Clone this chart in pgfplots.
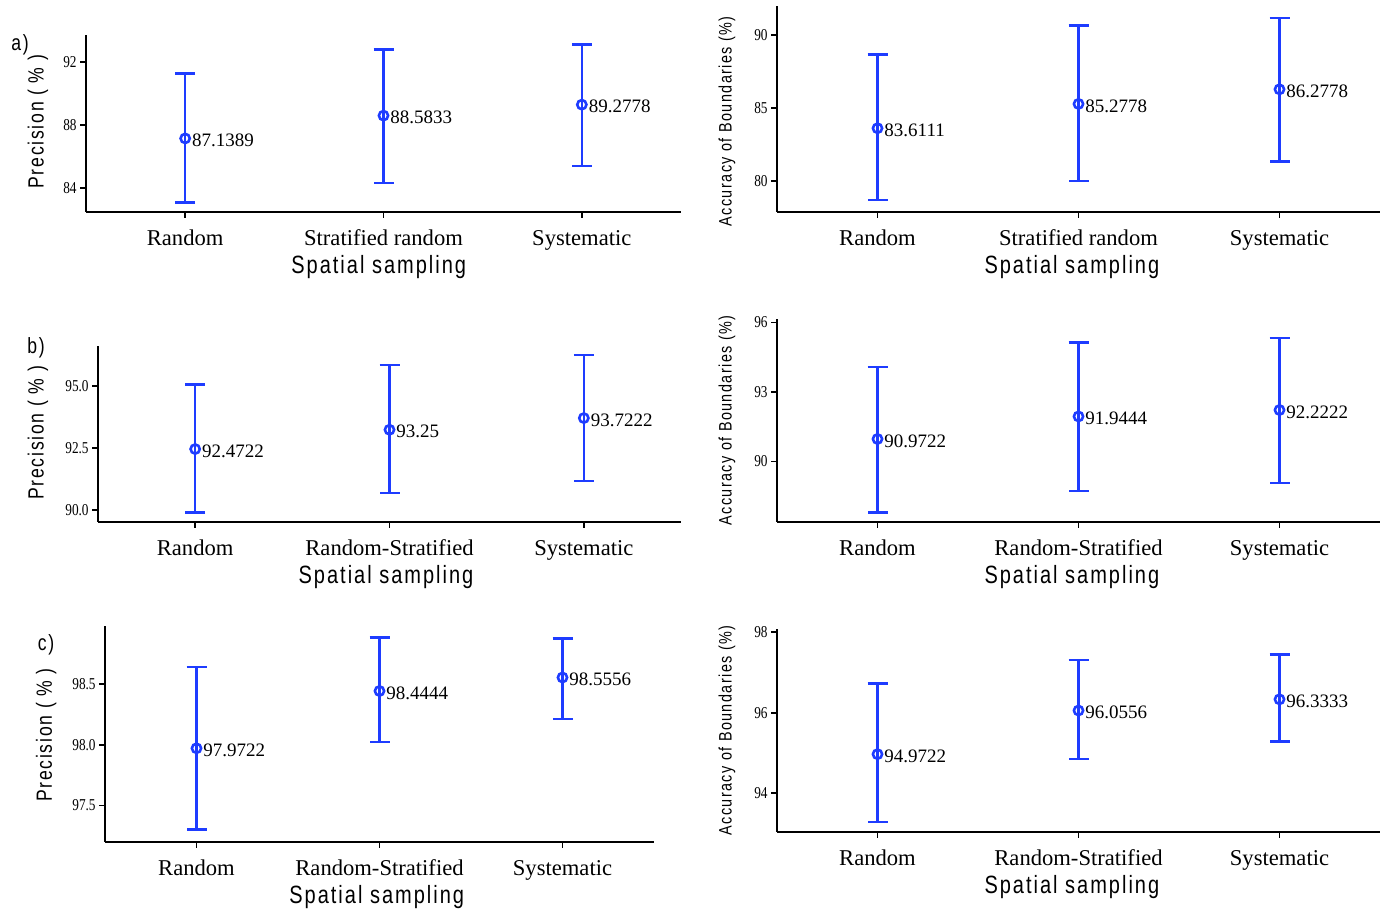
\documentclass[border=0pt]{standalone}
\usepackage{fontspec}
\setmainfont{Liberation Serif}
\newfontfamily\labfont[FakeStretch=0.8,LetterSpace=8]{Liberation Sans}
\newfontfamily\tickfont[FakeStretch=0.8]{Liberation Serif}
\usepackage{pgfplots}
\pgfplotsset{compat=1.18}
\usepackage{pgfplotstable}
\definecolor{ebblue}{RGB}{30,60,255}

\pgfplotsset{
 panel/.style={
  scale only axis, anchor=south west, clip=false,
  xmin=-0.5, xmax=2.5, xtick={0,1,2},
  axis x line*=bottom, axis y line*=left,
  axis line style={line width=1pt, black},
  tick style={line width=0.9pt, black},
  tick align=outside, major tick length=3pt,
  /pgf/number format/assume math mode=true,
  yticklabel style={font=\tickfont\fontsize{8.3}{9}\selectfont, inner sep=1.5pt},
  xticklabel style={font=\fontsize{11.3}{12}\selectfont, yshift=-2.5pt},
  xlabel={Spatial sampling},
  xlabel style={font=\labfont\fontsize{12.5}{14}\selectfont},
 },
 prec/.style={ylabel={Precision ( \% )}, ylabel style={font=\labfont\fontsize{11}{12}\selectfont}},
 accu/.style={ylabel={Accuracy of Boundaries (\%)}, ylabel style={font=\labfont\fontsize{9}{10}\selectfont}},
 ebplot/.style={ebblue, line width=1.2pt, mark=o, mark size=2.3pt, only marks,
   mark options={line width=1.3pt, ebblue},
   nodes near coords, point meta=explicit symbolic,
   every node near coord/.append style={anchor=west, text=black, font=\fontsize{9.5}{10}\selectfont, xshift=-0.5pt, yshift=-1pt},
   error bars/.cd, y dir=both, y explicit,
   error bar style={line width=1.2pt, ebblue},
   error mark options={ebblue, line width=1.2pt, mark size=5pt, rotate=90}},
}

\pgfplotstableread{
x y ep em lab
0 87.1389 4.10 4.07 87.1389
1 88.5833 4.18 4.26 88.5833
2 89.2778 3.82 3.88 89.2778
}\dataA
\pgfplotstableread{
x y ep em lab
0 83.6111 5.06 4.94 83.6111
1 85.2778 5.38 5.28 85.2778
2 86.2778 4.87 4.95 86.2778
}\dataB
\pgfplotstableread{
x y ep em lab
0 92.4722 2.60 2.56 92.4722
1 93.25 2.62 2.55 93.25
2 93.7222 2.54 2.55 93.7222
}\dataC
\pgfplotstableread{
x y ep em lab
0 90.9722 3.11 3.18 90.9722
1 91.9444 3.19 3.21 91.9444
2 92.2222 3.12 3.16 92.2222
}\dataD
\pgfplotstableread{
x y ep em lab
0 97.9722 0.67 0.67 97.9722
1 98.4444 0.44 0.42 98.4444
2 98.5556 0.32 0.34 98.5556
}\dataE
\pgfplotstableread{
x y ep em lab
0 94.9722 1.75 1.69 94.9722
1 96.0556 1.25 1.21 96.0556
2 96.3333 1.11 1.05 96.3333
}\dataF

\begin{document}
\begin{tikzpicture}
\useasboundingbox (0,0) rectangle (693pt,456.5pt);

% a) left
\begin{axis}[panel, prec, at={(43pt,350.5pt)}, width=297.5pt, height=88.5pt,
  ymin=82.48, ymax=93.69, ytick={84,88,92},
  xticklabels={Random,Stratified random,Systematic},
  ylabel style={at={(axis description cs:-0.081,0.51)}, anchor=center},
  xlabel style={at={(axis description cs:0.492,-0.31)}, anchor=center}]
\addplot[ebplot] table[x=x,y=y,y error plus=ep,y error minus=em,meta=lab]{\dataA};
\end{axis}

% a) right
\begin{axis}[panel, accu, at={(388.5pt,350.5pt)}, width=301.5pt, height=103pt,
  ymin=77.87, ymax=91.99, ytick={80,85,90},
  xticklabels={Random,Stratified random,Systematic},
  ylabel style={at={(axis description cs:-0.083,0.44)}, anchor=center},
  xlabel style={at={(axis description cs:0.489,-0.267)}, anchor=center}]
\addplot[ebplot] table[x=x,y=y,y error plus=ep,y error minus=em,meta=lab]{\dataB};
\end{axis}

% b) left
\begin{axis}[panel, prec, at={(49pt,195.5pt)}, width=291.5pt, height=88pt,
  ymin=89.53, ymax=96.63, ytick={90,92.5,95}, yticklabels={90.0,92.5,95.0},
  xticklabels={Random,Random-Stratified,Systematic},
  ylabel style={at={(axis description cs:-0.103,0.506)}, anchor=center},
  xlabel style={at={(axis description cs:0.494,-0.312)}, anchor=center}]
\addplot[ebplot] table[x=x,y=y,y error plus=ep,y error minus=em,meta=lab]{\dataC};
\end{axis}

% b) right
\begin{axis}[panel, accu, at={(388.5pt,195.5pt)}, width=301.5pt, height=101.5pt,
  ymin=87.39, ymax=96.15, ytick={90,93,96},
  xticklabels={Random,Random-Stratified,Systematic},
  ylabel style={at={(axis description cs:-0.083,0.50)}, anchor=center},
  xlabel style={at={(axis description cs:0.489,-0.271)}, anchor=center}]
\addplot[ebplot] table[x=x,y=y,y error plus=ep,y error minus=em,meta=lab]{\dataD};
\end{axis}

% c) left
\begin{axis}[panel, prec, at={(52.5pt,35.5pt)}, width=274.5pt, height=108pt,
  ymin=97.2, ymax=98.98, ytick={97.5,98,98.5}, yticklabels={97.5,98.0,98.5},
  xticklabels={Random,Random-Stratified,Systematic},
  ylabel style={at={(axis description cs:-0.107,0.495)}, anchor=center},
  xlabel style={at={(axis description cs:0.495,-0.255)}, anchor=center}]
\addplot[ebplot] table[x=x,y=y,y error plus=ep,y error minus=em,meta=lab]{\dataE};
\end{axis}

% c) right
\begin{axis}[panel, accu, at={(388.5pt,40.5pt)}, width=301.5pt, height=101.5pt,
  ymin=93.04, ymax=98.08, ytick={94,96,98},
  xticklabels={Random,Random-Stratified,Systematic},
  ylabel style={at={(axis description cs:-0.083,0.50)}, anchor=center},
  xlabel style={at={(axis description cs:0.489,-0.271)}, anchor=center}]
\addplot[ebplot] table[x=x,y=y,y error plus=ep,y error minus=em,meta=lab]{\dataF};
\end{axis}

\node[font=\labfont\fontsize{11}{12}\selectfont] at (10pt,434pt) {a)};
\node[font=\labfont\fontsize{11}{12}\selectfont] at (18pt,282.5pt) {b)};
\node[font=\labfont\fontsize{11}{12}\selectfont] at (23pt,134pt) {c)};
\end{tikzpicture}
\end{document}
